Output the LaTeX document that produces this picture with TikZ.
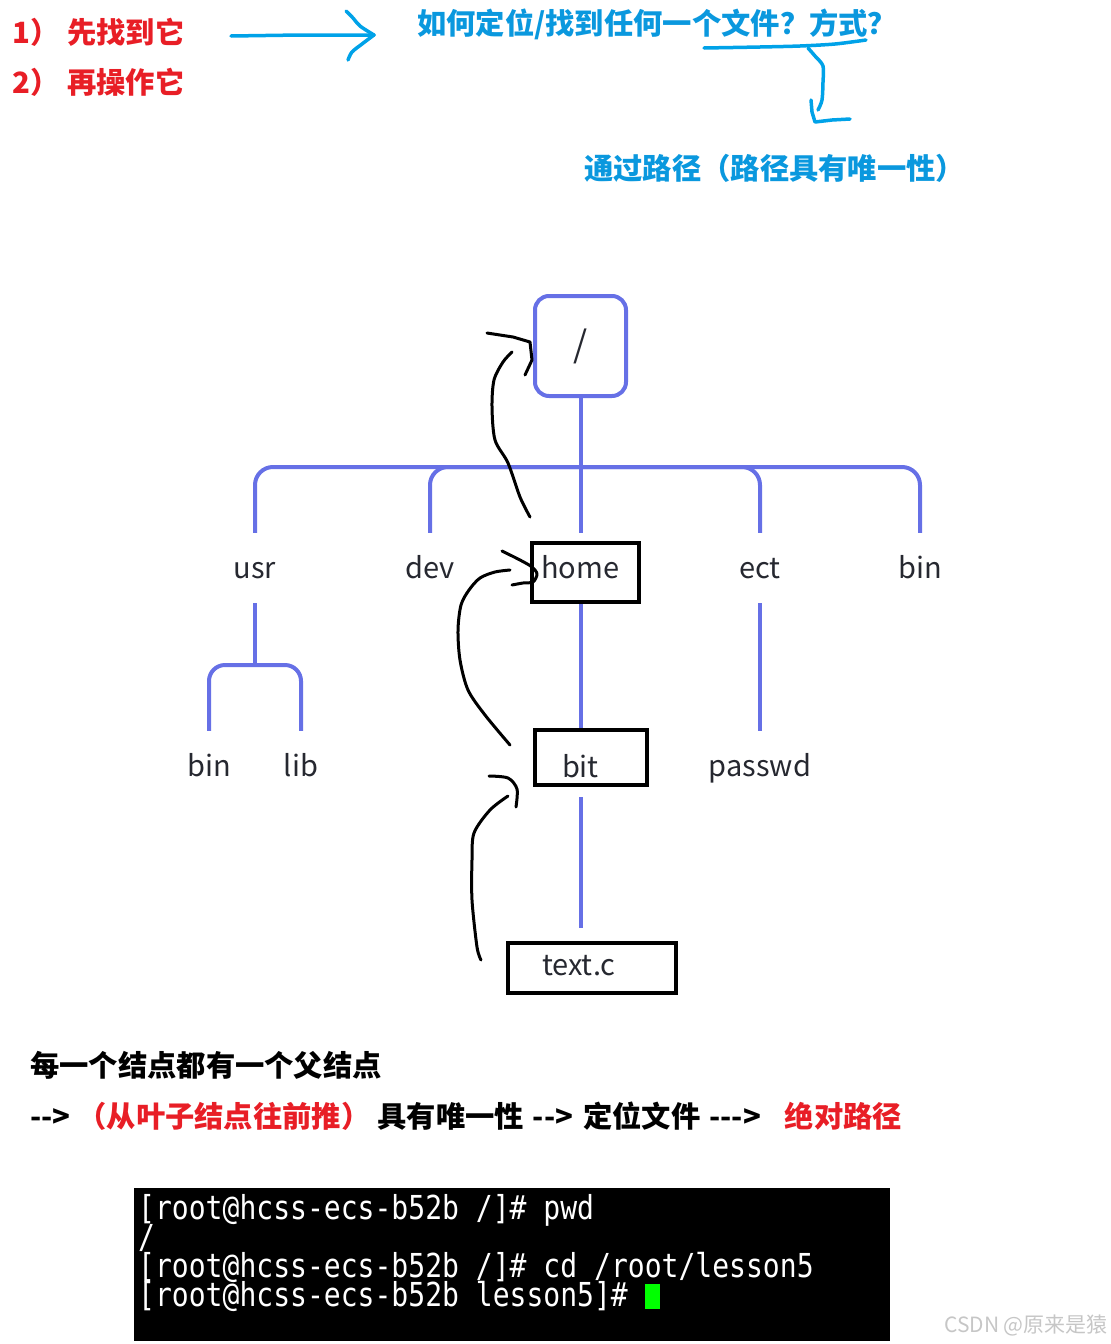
\documentclass[tikz,border=0pt]{standalone}
\usepackage{fontspec}
\usepackage{xcolor}
\usepackage{tikz}
\usetikzlibrary{positioning}
\newfontfamily\cjk{Noto Sans CJK SC}
\newfontfamily\termfont[FakeStretch=0.85]{DejaVu Sans Mono}
\newcommand\termstyle{\termfont\fontsize{33}{29}\selectfont\lineskiplimit=-20pt\relax\lineskip=0pt\relax}
\definecolor{notered}{RGB}{232, 30, 38}
\definecolor{noteblue}{RGB}{10, 152, 222}
\definecolor{penblue}{RGB}{0, 162, 232}
\definecolor{treeblue}{RGB}{102, 112, 230}
\definecolor{labelgray}{RGB}{38, 40, 48}
\definecolor{cursorgreen}{RGB}{0, 255, 0}

\begin{document}
\begin{tikzpicture}[x=1pt, y=-1pt,
    note/.style={font=\cjk\bfseries\fontsize{29.3}{31}\selectfont, text=#1, anchor=west, inner sep=0pt},
    leaf/.style={font=\cjk\fontsize{29}{30}\selectfont, text=labelgray, text height=26pt, text depth=6pt,
                 minimum height=70pt, inner sep=0pt},
    pathbox/.style={draw=black, line width=4pt, font=\cjk\fontsize{29}{30}\selectfont, text=labelgray,
                    inner ysep=0pt, align=left},
    tree/.style={draw=treeblue, line width=4pt},
    pen/.style={penblue, line width=3.5pt, line cap=round, line join=round},
    ink/.style={black, line width=3pt, line cap=round, line join=round}
]
    \useasboundingbox (0,0) rectangle (1111,1344);

    % notes on top
    \node[note=notered] (step1) at (12,32) {1）\hspace{8pt}先找到它};
    \node[note=notered] (step2) at (12,82) {2）\hspace{8pt}再操作它};
    \node[note=noteblue] (question) at (417,24) {如何定位/找到任何一个文件？方式？};
    \node[note=noteblue] (answer) at (584,168) {通过路径（路径具有唯一性）};

    \coordinate (tip) at (374,35);
    \draw[pen] (231,36) -- (300,35) -- (tip);
    \draw[pen] plot[smooth] coordinates {(346,11) (353,18) (360,26) (tip)};
    \draw[pen] plot[smooth] coordinates {(tip) (362,44) (352,52) (348,60)};
    \draw[pen] plot[smooth] coordinates {(704,48) (760,47) (800,46) (835,44) (866,40)};
    \draw[pen] plot[smooth] coordinates {(808,48) (815,56) (823,66) (823,82) (822,100) (818,110)};
    \draw[pen] (811,100) -- (812,112) -- (815,122) -- (832,120) -- (850,119);

    % directory tree
    \node[draw=treeblue, line width=4pt, rounded corners=14pt, minimum width=91pt,
          minimum height=100pt, font=\cjk\fontsize{36}{36}\selectfont, text=labelgray] (root) at (580.5,346) {\itshape /};
    \node[leaf] (usr) at (255,568) {usr};
    \node[leaf] (dev) at (430,568) {dev};
    \node[pathbox, inner xsep=9pt, text width=89pt, text height=35pt, text depth=24pt] (home) at (585.5,572.5) {home};
    \node[leaf] (ect) at (760,568) {ect};
    \node[leaf] (binr) at (920,568) {bin};
    \node[leaf] (binl) at (209,766) {bin};
    \node[leaf] (lib) at (301,766) {lib};
    \node[pathbox, inner xsep=27pt, text width=58pt, text height=47pt, text depth=8pt] (bit) at (591,757.5) {bit};
    \node[leaf] (passwd) at (760,766) {passwd};
    \node[pathbox, inner xsep=34pt, text width=100pt, text height=32pt, text depth=18pt] (textc) at (592,968) {text.c};

    \coordinate (bus) at (581,467);
    \coordinate (fork) at (255,665);
    \draw[tree] (root.south) -- (root.south |- usr.north);
    \draw[tree, rounded corners=18pt] (usr.north) |- (binr.north |- bus) -- (binr.north);
    \draw[tree, rounded corners=18pt] (dev.north) |- (bus);
    \draw[tree, rounded corners=18pt] (ect.north) |- (bus);
    \draw[tree] (usr.south) -- (fork);
    \draw[tree, rounded corners=16pt] (binl.north) |- (lib.north |- fork) -- (lib.north);
    \draw[tree] (ect.south) -- (passwd.north);
    \draw[tree] (root.south |- home.south) -- (root.south |- bit.north);
    \draw[tree] ([yshift=-10pt]root.south |- bit.south) -- ([yshift=13pt]root.south |- textc.north);

    % hand drawn way back up
    \draw[ink] plot[smooth] coordinates {(530,517) (520,497) (508,463) (495,440) (492,407) (494,380) (503,362) (512,352)};
    \draw[ink] (487,333) -- (513,337) -- (530,342) -- (532,360) -- (525,375);
    \draw[ink] plot[smooth] coordinates {(510,745) (485,715) (468,690) (460,660) (458,630) (461,605) (469,590) (480,578) (495,572) (510,570)};
    \draw[ink] plot[smooth] coordinates {(502,551) (520,560) (532,567) (537,574) (533,582) (523,583) (512,585)};
    \draw[ink] plot[smooth] coordinates {(481,960) (477,947) (472,900) (472,860) (474,833) (490,810) (508,796)};
    \draw[ink] plot[smooth] coordinates {(489,776) (508,778) (517,789) (516,807)};

    % notes below
    \node[note=black] (parent) at (30,1065) {每一个结点都有一个父结点};
    \node[note=black] (chain) at (30,1116) {-{}->\hspace{7pt}\textcolor{notered}{（从叶子结点往前推）}\hspace{7pt}具有唯一性\hspace{9pt}-{}->\hspace{10pt}定位文件\hspace{9pt}-{}-{}->\hspace{24pt}\textcolor{notered}{绝对路径}};

    % terminal
    \fill[black] (134,1188) rectangle (890,1341);
    \node[anchor=north west, inner sep=0pt, align=left, text=white, font=\termstyle] (term) at (138,1194)
        {{[}root@hcss-ecs-b52b /]\# pwd\\/\\{[}root@hcss-ecs-b52b /]\# cd /root/lesson5\\{[}root@hcss-ecs-b52b lesson5]\# \smash{\textcolor{cursorgreen}{\rule[-3pt]{15pt}{25pt}}}};

    \node[anchor=east, inner sep=0pt, text=gray!45, font=\cjk\fontsize{21}{21}\selectfont] (mark) at (1108,1325) {CSDN @原来是猿};
\end{tikzpicture}
\end{document}
